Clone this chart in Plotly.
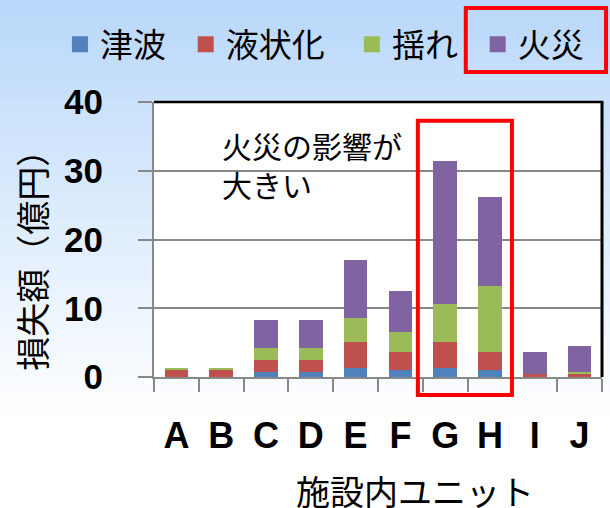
import plotly.graph_objects as go

units = ["A", "B", "C", "D", "E", "F", "G", "H", "I", "J"]
tsunami = [0.0, 0.0, 0.77, 0.77, 1.35, 1.0, 1.35, 1.0, 0.0, 0.0]
liquefaction = [1.0, 1.0, 1.70, 1.70, 3.68, 2.57, 3.68, 2.57, 0.45, 0.45]
shaking = [0.3, 0.3, 1.79, 1.79, 3.49, 2.95, 5.53, 9.6, 0.05, 0.3]
fire = [0.0, 0.0, 4.03, 4.03, 8.44, 6.06, 20.9, 13.0, 3.1, 3.7]

series_names = ["津波", "液状化", "揺れ", "火災"]
series_values = [tsunami, liquefaction, shaking, fire]
series_colors = ["#4F81BD", "#C0504D", "#9BBB59", "#8064A2"]
legend_pad = ["\u00a0\u00a0", "\u00a0\u00a0\u00a0", "\u00a0\u00a0", "\u00a0\u00a0"]

y_title = "損失額（億円）"
x_title = "施設内ユニット"
note_text = "火災の影響が<br>大きい"

CJK = "Noto Sans CJK JP"
LAT = "Liberation Sans"
GRAY = "#888888"

fig = go.Figure()
for name, vals, col in zip(series_names, series_values, series_colors):
    fig.add_trace(go.Bar(x=units, y=vals, name=name, marker=dict(color=col, line=dict(width=0)),
                         showlegend=False, legendgroup=name))
for name, col, pad in zip(series_names, series_colors, legend_pad):
    fig.add_trace(go.Scatter(x=[None], y=[None], mode="markers", name=name + pad,
                             legendgroup=name,
                             marker=dict(symbol="square", size=16, color=col)))

# background gradient (light blue -> white)
shapes = []
top_rgb = (184, 215, 250)
N = 60
y_top, y_white = 1.40, -0.16
for i in range(N):
    t = i / (N - 1)
    r = round(top_rgb[0] + (255 - top_rgb[0]) * t)
    g = round(top_rgb[1] + (255 - top_rgb[1]) * t)
    b = round(top_rgb[2] + (255 - top_rgb[2]) * t)
    ya = y_top - (y_top - y_white) * i / N
    yb = y_top - (y_top - y_white) * (i + 1) / N
    shapes.append(dict(type="rect", xref="paper", yref="paper", x0=-0.4, x1=1.1, y0=yb - 0.002, y1=ya,
                       fillcolor=f"rgb({r},{g},{b})", line=dict(width=0), layer="below"))
shapes.append(dict(type="rect", xref="paper", yref="paper", x0=0, x1=1, y0=0, y1=1,
                   fillcolor="white", line=dict(width=0), layer="below"))
# frame top/right in black
shapes.append(dict(type="line", xref="paper", yref="paper", x0=0, x1=1.003, y0=1, y1=1,
                   line=dict(color="black", width=2.5), layer="above"))
shapes.append(dict(type="line", xref="paper", yref="paper", x0=1, x1=1, y0=0, y1=1,
                   line=dict(color="black", width=3), layer="above"))
# red highlight boxes
shapes.append(dict(type="rect", xref="paper", yref="paper", x0=0.589, x1=0.799, y0=-0.065, y1=0.932,
                   line=dict(color="#FF0000", width=4), layer="above"))
shapes.append(dict(type="rect", xref="paper", yref="paper", x0=0.696, x1=1.009, y0=1.109, y1=1.342,
                   line=dict(color="#FF0000", width=4), layer="above"))

annotations = [
    dict(text=note_text, xref="paper", yref="paper", x=0.148, y=0.772, xanchor="left", yanchor="middle",
         align="left", showarrow=False, font=dict(family=CJK, size=30, color="black")),
    dict(text=y_title, xref="paper", yref="paper", x=-0.274, y=0.456, textangle=-90,
         xanchor="center", yanchor="middle", showarrow=False, font=dict(family=CJK, size=34, color="black")),
    dict(text=x_title, xref="paper", yref="paper", x=0.583, y=-0.412,
         xanchor="center", yanchor="middle", showarrow=False, font=dict(family=CJK, size=34, color="black")),
]

fig.update_layout(
    width=610, height=508, autosize=False,
    margin=dict(l=154, r=8, t=102, b=131, autoexpand=False),
    paper_bgcolor="white", plot_bgcolor="white",
    barmode="stack", bargap=0.47,
    shapes=shapes, annotations=annotations,
    legend=dict(orientation="h", x=-0.21, y=1.21, xanchor="left", yanchor="middle",
                font=dict(family=CJK, size=33, color="black"), bgcolor="rgba(0,0,0,0)",
                itemclick=False),
    xaxis=dict(type="category", showline=True, linecolor=GRAY, linewidth=2, automargin=False,
               ticks="outside", tickson="boundaries", ticklen=13, tickwidth=2, tickcolor=GRAY,
               tickfont=dict(family=LAT, size=36, color="black", weight="bold"),
               ticklabelstandoff=26, showgrid=False),
    yaxis=dict(range=[0, 40], dtick=10, showline=True, linecolor=GRAY, linewidth=2, automargin=False,
               ticks="outside", ticklen=14, tickwidth=2, tickcolor=GRAY,
               showgrid=True, gridcolor=GRAY, gridwidth=1.5, zeroline=False,
               tickfont=dict(family=LAT, size=35, color="black", weight="bold"),
               ticklabelstandoff=28),
)

fig.write_html("out.html", config={"displayModeBar": False},
               post_script="document.body.style.margin='0';document.body.style.overflow='hidden';")
